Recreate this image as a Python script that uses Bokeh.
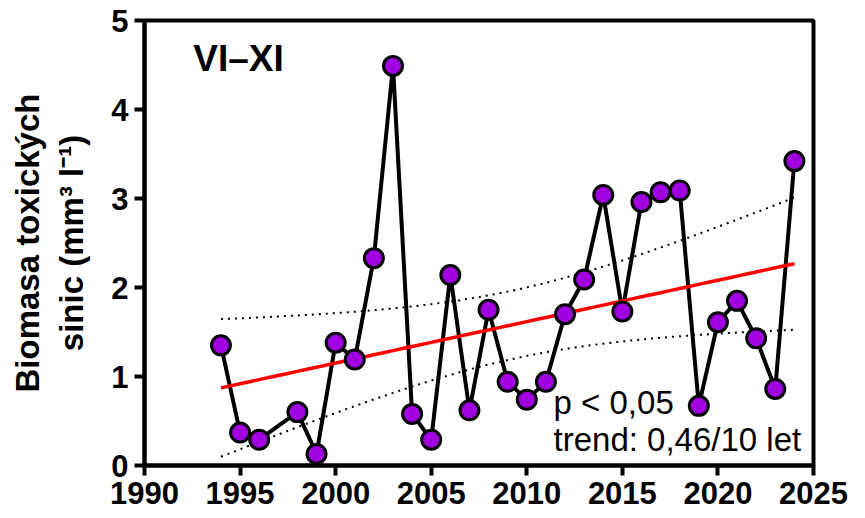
import numpy as np
from bokeh.plotting import figure
from bokeh.models import Range1d, FixedTicker, Label, ColumnDataSource
from bokeh.embed import file_html
from bokeh.resources import INLINE

# ---- data ----
years = [1994, 1995, 1996, 1998, 1999, 2000, 2001, 2002, 2003, 2004,
         2005, 2006, 2007, 2008, 2009, 2010, 2011, 2012, 2013, 2014,
         2015, 2016, 2017, 2018, 2019, 2020, 2021, 2022, 2023, 2024]
biomass = [1.35, 0.37, 0.29, 0.60, 0.13, 1.38, 1.19, 2.33, 4.49, 0.58,
           0.29, 2.14, 0.62, 1.75, 0.94, 0.74, 0.94, 1.70, 2.09, 3.04,
           1.73, 2.96, 3.07, 3.09, 0.67, 1.61, 1.85, 1.43, 0.86, 3.42]
x_ticks = [1990, 1995, 2000, 2005, 2010, 2015, 2020, 2025]
y_ticks = [0, 1, 2, 3, 4, 5]
period_label = "VI–XI"
stat_lines = ["p < 0,05", "trend: 0,46/10 let"]
y_title = "Biomasa toxických\nsinic (mm³ l⁻¹)"
T_CRIT = 2.048  # t(0.975, n-2)

# ---- linear regression with 95% confidence band ----
xa = np.array(years, dtype=float)
ya = np.array(biomass, dtype=float)
n = len(xa)
slope, intercept = np.polyfit(xa, ya, 1)
fx = np.linspace(xa.min(), xa.max(), 61)
fy = intercept + slope * fx
resid = ya - (intercept + slope * xa)
s = np.sqrt(np.sum(resid ** 2) / (n - 2))
sxx = np.sum((xa - xa.mean()) ** 2)
half = T_CRIT * s * np.sqrt(1.0 / n + (fx - xa.mean()) ** 2 / sxx)

src = ColumnDataSource(dict(year=years, val=biomass))
fit = ColumnDataSource(dict(x=fx, y=fy, lo=fy - half, hi=fy + half))

FONT = "Liberation Sans"

p = figure(width=865, height=518,
           x_range=Range1d(1990, 2025), y_range=Range1d(0, 5),
           output_backend="svg", toolbar_location=None,
           min_border_left=144, min_border_right=52,
           min_border_top=20, min_border_bottom=53)
p.grid.visible = False
p.background_fill_color = "white"
p.border_fill_color = "white"
p.outline_line_color = "black"
p.outline_line_width = 4
p.outline_line_alpha = 1.0

for ax in (p.xaxis[0], p.yaxis[0]):
    ax.axis_line_width = 4
    ax.axis_line_color = "black"
    ax.major_tick_line_width = 4
    ax.major_tick_line_color = "black"
    ax.major_tick_out = 10
    ax.major_tick_in = 0
    ax.minor_tick_line_color = None
    ax.major_label_text_font = FONT
    ax.major_label_text_font_style = "bold"
    ax.major_label_text_font_size = "31px"
    ax.major_label_text_color = "black"

p.xaxis[0].ticker = FixedTicker(ticks=x_ticks)
p.yaxis[0].ticker = FixedTicker(ticks=y_ticks)
p.xaxis[0].major_label_standoff = 6
p.yaxis[0].major_label_standoff = 6

p.yaxis[0].axis_label = y_title
p.yaxis[0].axis_label_text_font = FONT
p.yaxis[0].axis_label_text_font_style = "bold"
p.yaxis[0].axis_label_text_font_size = "33px"
p.yaxis[0].axis_label_text_color = "black"
p.yaxis[0].axis_label_standoff = 18

# confidence band
p.line("x", "hi", source=fit, line_color="black", line_width=2, line_dash="2 5")
p.line("x", "lo", source=fit, line_color="black", line_width=2, line_dash="2 5")
# data line
p.line("year", "val", source=src, line_color="black", line_width=4)
# regression line
p.line("x", "y", source=fit, line_color="#ff0000", line_width=3.5)
# markers
p.scatter("year", "val", source=src, size=19, fill_color="#a000e0",
          line_color="black", line_width=3)

p.add_layout(Label(x=1992.55, y=4.57, text=period_label, text_font=FONT,
                   text_font_style="bold", text_font_size="37px",
                   text_color="black", text_baseline="alphabetic"))
p.add_layout(Label(x=2011.4, y=0.71, text=stat_lines[0], text_font=FONT,
                   text_font_size="33px", text_color="black",
                   text_baseline="alphabetic"))
p.add_layout(Label(x=2011.4, y=0.29, text=stat_lines[1], text_font=FONT,
                   text_font_size="33px", text_color="black",
                   text_baseline="alphabetic"))

open("out.html", "w").write(file_html(p, INLINE))
